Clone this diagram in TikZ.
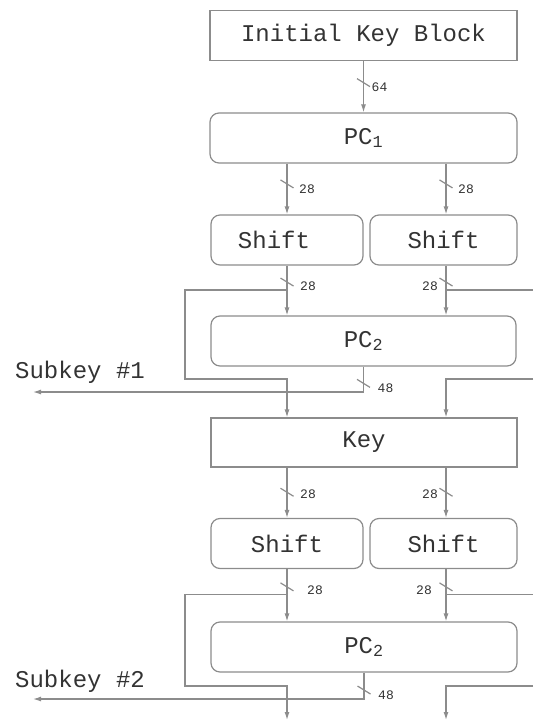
\documentclass[tikz,border=0pt]{standalone}
\usepackage{fontspec}
\setmonofont{Liberation Mono}
\usetikzlibrary{arrows.meta}

\definecolor{linia}{gray}{0.55}
\definecolor{lletra}{gray}{0.2}

\tikzset{
  bloc/.style={draw=linia, line width=1.2pt, minimum height=50pt, inner sep=0pt,
    text=lletra, font=\ttfamily\fontsize{24}{24}\selectfont},
  arrodonit/.style={bloc, rounded corners=9pt},
  fil/.style={draw=linia, line width=1.2pt},
  fletxa/.style={fil, -{Latex[length=8pt,width=5pt]}},
  bits/.style={text=lletra, font=\ttfamily\fontsize{13}{13}\selectfont, inner sep=0pt},
  retol/.style={text=lletra, font=\ttfamily\fontsize{24}{24}\selectfont, inner sep=0pt},
  tall/.pic={\draw[fil] (-6.5,-4) -- (6.5,4);}
}

\begin{document}
\begin{tikzpicture}[x=1pt,y=-1pt]
  \useasboundingbox (0,0) rectangle (533,722);
  \coordinate (colE) at (287,0);
  \coordinate (colD) at (446,0);
  \coordinate (vora) at (533,0);

  % Blocs
  \node[bloc, minimum width=307pt] (inici) at (363.5,35.5) {Initial Key Block};
  \node[arrodonit, minimum width=307pt] (pc1) at (363.5,138) {PC\textsubscript{1}};
  \node[arrodonit, minimum width=152pt] (shE1) at (287,240) {Shift\kern26pt};
  \node[arrodonit, minimum width=147pt] (shD1) at (443.5,240) {Shift};
  \node[arrodonit, minimum width=305pt] (pc2a) at (363.5,341) {PC\textsubscript{2}};
  \node[bloc, minimum width=306pt, minimum height=49pt] (key) at (364,442.5) {Key};
  \node[arrodonit, minimum width=152pt] (shE2) at (287,543.5) {Shift};
  \node[arrodonit, minimum width=147pt] (shD2) at (443.5,543.5) {Shift};
  \node[arrodonit, minimum width=306pt] (pc2b) at (364,647) {PC\textsubscript{2}};

  % Subclaus
  \node[retol, anchor=base west] (sub1) at (15,378) {Subkey \#1};
  \node[retol, anchor=base west] (sub2) at (15,687) {Subkey \#2};
  \coordinate (sk1) at (33,392);
  \coordinate (sk2) at (33,699);
  \coordinate (hE1) at (185,379);
  \coordinate (hE2) at (185,686);
  \coordinate (baixE) at (287,720);
  \coordinate (baixD) at (446,720);

  % Entrada de 64 bits
  \draw[fletxa] (inici) -- coordinate[pos=.42] (t0) (pc1);
  \pic at (t0) {tall};
  \node[bits, anchor=west] (n0) at ([shift={(8,5)}]t0) {64};

  % PC1 cap als desplacaments
  \draw[fletxa] (pc1.south -| colE) -- coordinate[pos=.4] (t1) (shE1.north -| colE);
  \pic at (t1) {tall};
  \node[bits, anchor=west] (n1) at ([shift={(12,5)}]t1) {28};
  \draw[fletxa] (pc1.south -| colD) -- coordinate[pos=.4] (t2) (shD1.north -| colD);
  \pic at (t2) {tall};
  \node[bits, anchor=west] (n2) at ([shift={(12,5)}]t2) {28};

  % Desplacaments cap a PC2
  \draw[fletxa] (shE1.south -| colE) -- coordinate[pos=.33] (t3) coordinate[pos=.49] (r1) (pc2a.north -| colE);
  \pic at (t3) {tall};
  \node[bits, anchor=west] (n3) at ([shift={(13,4)}]t3) {28};
  \draw[fletxa] (shD1.south -| colD) -- coordinate[pos=.33] (t4) coordinate[pos=.49] (r2) (pc2a.north -| colD);
  \pic at (t4) {tall};
  \node[bits, anchor=east] (n4) at ([shift={(-8,4)}]t4) {28};

  % Realimentacio cap a Key
  \draw[fletxa] (r1) -| (hE1) -| (key.north -| colE);
  \draw[fil] (r2) -- (r2 -| vora);
  \draw[fletxa] (vora |- hE1) -| (key.north -| colD);

  % Subclau 1
  \draw[fletxa] (pc2a.south) |- coordinate[pos=.33] (t5) (sk1);
  \pic at (t5) {tall};
  \node[bits, anchor=west] (n5) at ([shift={(14,5)}]t5) {48};

  % Key cap als desplacaments
  \draw[fletxa] (key.south -| colE) -- coordinate[pos=.49] (t6) (shE2.north -| colE);
  \pic at (t6) {tall};
  \node[bits, anchor=west] (n6) at ([shift={(13,2)}]t6) {28};
  \draw[fletxa] (key.south -| colD) -- coordinate[pos=.49] (t7) (shD2.north -| colD);
  \pic at (t7) {tall};
  \node[bits, anchor=east] (n7) at ([shift={(-8,2)}]t7) {28};

  % Desplacaments cap al segon PC2
  \draw[fletxa] (shE2.south -| colE) -- coordinate[pos=.34] (t8) coordinate[pos=.49] (r3) (pc2b.north -| colE);
  \pic at (t8) {tall};
  \node[bits, anchor=west] (n8) at ([shift={(20,3)}]t8) {28};
  \draw[fletxa] (shD2.south -| colD) -- coordinate[pos=.34] (t9) coordinate[pos=.49] (r4) (pc2b.north -| colD);
  \pic at (t9) {tall};
  \node[bits, anchor=east] (n9) at ([shift={(-14,3)}]t9) {28};

  % Realimentacio cap avall
  \draw[fletxa] (r3) -| (hE2) -| (baixE);
  \draw[fil] (r4) -- (r4 -| vora);
  \draw[fletxa] (vora |- hE2) -| (baixD);

  % Subclau 2
  \draw[fletxa] (pc2b.south) |- coordinate[pos=.33] (t10) (sk2);
  \pic at (t10) {tall};
  \node[bits, anchor=west] (n10) at ([shift={(14,5)}]t10) {48};
\end{tikzpicture}
\end{document}
